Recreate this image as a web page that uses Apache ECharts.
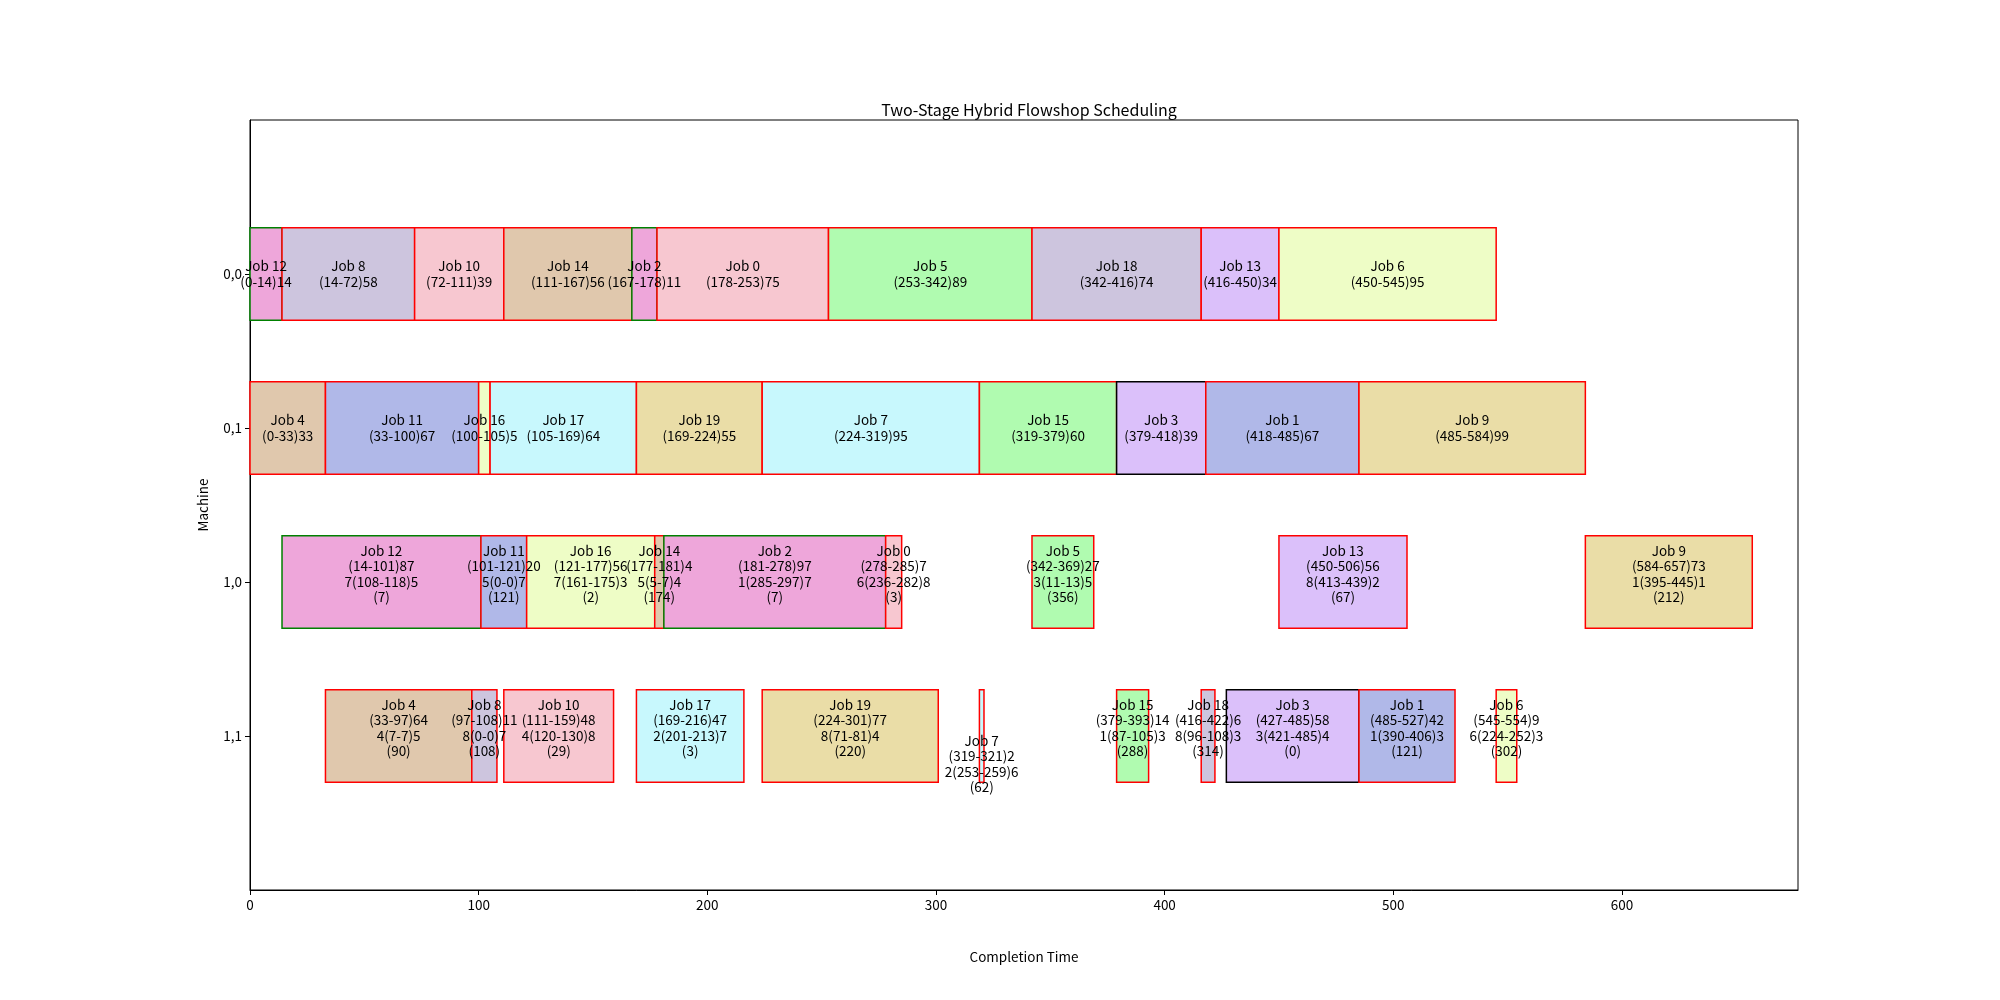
<!DOCTYPE html>
<html>
<head>
<meta charset="utf-8">
<script src="https://cdn.jsdelivr.net/npm/echarts@6/dist/echarts.min.js"></script>
<style>html,body{margin:0;padding:0;background:#fff;}#c{width:2000px;height:1000px;}</style>
</head>
<body>
<div id="c"></div>
<script>
const machines = ['0,0', '0,1', '1,0', '1,1'];
const xTicks = [0, 100, 200, 300, 400, 500, 600];

// Machine 0,0
const jobs00 = [12, 8, 10, 14, 2, 0, 5, 18, 13, 6];
const start00 = [0, 14, 72, 111, 167, 178, 253, 342, 416, 450];
const end00 = [14, 72, 111, 167, 178, 253, 342, 416, 450, 545];

// Machine 0,1
const jobs01 = [4, 11, 16, 17, 19, 7, 15, 3, 1, 9];
const start01 = [0, 33, 100, 105, 169, 224, 319, 379, 418, 485];
const end01 = [33, 100, 105, 169, 224, 319, 379, 418, 485, 584];

// Machine 1,0
const jobs10 = [12, 11, 16, 14, 2, 0, 5, 13, 9];
const start10 = [14, 101, 121, 177, 181, 278, 342, 450, 584];
const end10 = [101, 121, 177, 181, 278, 285, 369, 506, 657];
const detail10 = ['7(108-118)5', '5(0-0)7', '7(161-175)3', '5(5-7)4', '1(285-297)7', '6(236-282)8', '3(11-13)5', '8(413-439)2', '1(395-445)1'];
const extra10 = [7, 121, 2, 174, 7, 3, 356, 67, 212];

// Machine 1,1
const jobs11 = [4, 8, 10, 17, 19, 7, 15, 18, 3, 1, 6];
const start11 = [33, 97, 111, 169, 224, 319, 379, 416, 427, 485, 545];
const end11 = [97, 108, 159, 216, 301, 321, 393, 422, 485, 527, 554];
const detail11 = ['4(7-7)5', '8(0-0)7', '4(120-130)8', '2(201-213)7', '8(71-81)4', '2(253-259)6', '1(87-105)3', '8(96-108)3', '3(421-485)4', '1(390-406)3', '6(224-252)3'];
const extra11 = [90, 108, 29, 3, 220, 62, 288, 314, 0, 121, 302];

const jobColors = ['#F7C7D0', '#B0B8E8', '#EEA6DA', '#DBC0FA', '#E0C8AD', '#B0FBB0', '#EEFDC6', '#C8F8FD', '#CDC5DE', '#EADDA7'];

function build() {
  const data = [];
  const rows = [
    [jobs00, start00, end00, null, null],
    [jobs01, start01, end01, null, null],
    [jobs10, start10, end10, detail10, extra10],
    [jobs11, start11, end11, detail11, extra11]
  ];
  rows.forEach((r, ri) => {
    const [jobs, st, en, det, ex] = r;
    jobs.forEach((j, i) => {
      let txt = 'Job ' + j + '\n(' + st[i] + '-' + en[i] + ')' + (en[i] - st[i]);
      if (det) txt += '\n' + det[i] + '\n(' + ex[i] + ')';
      data.push({ value: [st[i], en[i], ri, j], label: txt, multi: !!det });
    });
  });
  return data;
}
const items = build();

function edgeColor(j) {
  if (j === 12 || j === 2) return '#008000';
  if (j === 3) return '#000000';
  return '#FF0000';
}

const FONT = '"Noto Sans CJK SC", "DejaVu Sans", sans-serif';

function renderItem(params, api) {
  const it = items[params.dataIndex];
  const s = api.value(0), e = api.value(1), r = api.value(2), j = api.value(3);
  const p0 = api.coord([s, r]);
  const p1 = api.coord([e, r]);
  const h = Math.abs(api.size([0, 0.6])[1]);
  let dy = 0;
  if (it.multi) dy = (e - s <= 2) ? 28 : -8;
  return {
    type: 'group',
    children: [
      {
        type: 'rect',
        z2: 1,
        shape: { x: p0[0], y: p0[1] - h / 2, width: p1[0] - p0[0], height: h },
        style: { fill: jobColors[j % 10], stroke: edgeColor(j), lineWidth: 1.5 }
      },
      {
        type: 'text',
        z2: 100,
        x: (p0[0] + p1[0]) / 2,
        y: p0[1] + dy,
        style: {
          text: it.label,
          align: 'center',
          verticalAlign: 'middle',
          fontFamily: FONT,
          fontSize: 13.5,
          lineHeight: 15.5,
          fill: '#000'
        }
      }
    ]
  };
}

const chart = echarts.init(document.getElementById('c'), null, { renderer: 'canvas' });
chart.setOption({
  animation: false,
  backgroundColor: '#fff',
  textStyle: { fontFamily: FONT },
  title: {
    text: 'Two-Stage Hybrid Flowshop Scheduling',
    left: 1024,
    textAlign: 'center',
    top: 97,
    textStyle: { fontSize: 16, fontWeight: 'normal', color: '#000', fontFamily: FONT }
  },
  grid: { left: 250, right: 202, top: 120, bottom: 110, show: true, borderColor: '#000', borderWidth: 1, backgroundColor: 'transparent' },
  xAxis: {
    type: 'value', min: 0, max: 677,
    name: 'Completion Time', nameLocation: 'middle', nameGap: 60,
    nameTextStyle: { fontSize: 13.5, color: '#000' },
    axisLine: { show: true, onZero: false, lineStyle: { color: '#000', width: 1 } },
    axisTick: { show: true, length: 5, lineStyle: { color: '#000' }, customValues: xTicks },
    axisLabel: { fontSize: 13.5, color: '#000', margin: 8, customValues: xTicks },
    splitLine: { show: false }
  },
  yAxis: {
    type: 'value', min: -1, max: 4, inverse: true,
    name: 'Machine', nameLocation: 'middle', nameGap: 40,
    nameTextStyle: { fontSize: 13.5, color: '#000' },
    axisLine: { show: true, onZero: false, lineStyle: { color: '#000', width: 1 } },
    axisTick: { show: true, length: 5, lineStyle: { color: '#000' }, customValues: [0, 1, 2, 3] },
    axisLabel: { fontSize: 13.5, color: '#000', margin: 8, customValues: [0, 1, 2, 3], formatter: v => machines[v] },
    splitLine: { show: false }
  },
  series: [{
    type: 'custom',
    renderItem: renderItem,
    clip: false,
    encode: { x: [0, 1], y: 2 },
    data: items.map(d => d.value)
  }]
});
</script>
</body>
</html>
